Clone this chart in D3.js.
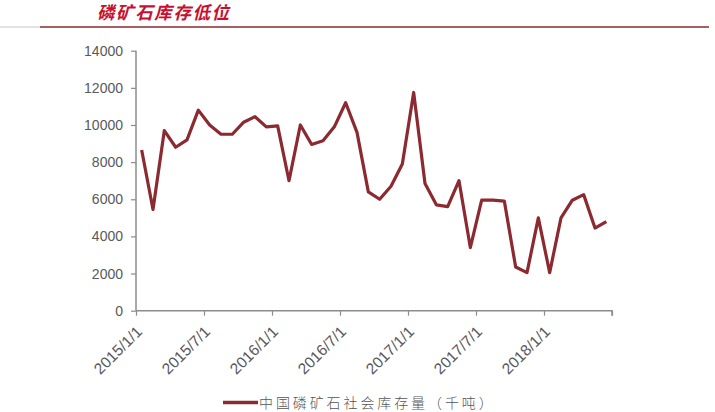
<!DOCTYPE html>
<html><head><meta charset="utf-8">
<script src="https://cdn.jsdelivr.net/npm/d3@7"></script>
<style>
html,body{margin:0;padding:0;background:#fff;}
svg{display:block;}
</style></head>
<body>
<svg id="chart" width="715" height="412"></svg>
<script>
const title = "磷矿石库存低位";
const seriesName = "中国磷矿石社会库存量（千吨）";
const months = ["2015-01","2015-02","2015-03","2015-04","2015-05","2015-06","2015-07","2015-08","2015-09","2015-10","2015-11","2015-12",
  "2016-01","2016-02","2016-03","2016-04","2016-05","2016-06","2016-07","2016-08","2016-09","2016-10","2016-11","2016-12",
  "2017-01","2017-02","2017-03","2017-04","2017-05","2017-06","2017-07","2017-08","2017-09","2017-10","2017-11","2017-12",
  "2018-01","2018-02","2018-03","2018-04","2018-05","2018-06"];
const stock = [8650,5450,9700,8800,9200,10800,10000,9500,9500,10150,10450,9900,
  9950,7000,10000,8950,9150,9900,11200,9600,6400,6000,6700,7900,
  11750,6850,5700,5600,7000,3400,5950,5950,5900,2350,2050,5000,
  2050,5000,5950,6250,4450,4800];
const xTickLabels = ["2015/1/1","2015/7/1","2016/1/1","2016/7/1","2017/1/1","2017/7/1","2018/1/1",""];
const yTicks = [0,2000,4000,6000,8000,10000,12000,14000];

(function(){
const svg = d3.select("#chart");
const mLeft = 136, mRight = 612, mTop = 50.7, mBottom = 310.7;

// header
svg.append("line").attr("x1",0).attr("x2",40).attr("y1",27).attr("y2",27)
  .attr("stroke","#d8d8d8").attr("stroke-width",1.5);
svg.append("line").attr("x1",40).attr("x2",709).attr("y1",27).attr("y2",27)
  .attr("stroke","#8a2a2e").attr("stroke-width",1.5);
svg.append("text").attr("x",97).attr("y",19).text(title)
  .attr("font-family","'Noto Sans CJK SC'").attr("font-weight","bold").attr("font-style","italic")
  .attr("font-size",17.5).attr("letter-spacing",1.6).attr("fill","#c8102e");

const idx = d3.scaleLinear().domain([0, months.length]).range([mLeft, mRight]);
const y = d3.scaleLinear().domain([0,14000]).range([mBottom, mTop]);

const axisColor = "#8c8c8c";
const gy = svg.append("g").attr("transform",`translate(${mLeft},0)`)
  .call(d3.axisLeft(y).tickValues(yTicks).tickSize(5).tickPadding(8).tickFormat(d3.format("d")));
const gx = svg.append("g").attr("transform",`translate(0,${mBottom})`)
  .call(d3.axisBottom(idx).tickValues(d3.range(0, months.length+1, 6)).tickSize(5)
    .tickFormat((d,i)=>xTickLabels[i]));
[gx,gy].forEach(g=>{
  g.selectAll(".domain").attr("stroke",axisColor).attr("stroke-width",1.5);
  g.selectAll(".tick line").attr("stroke",axisColor).attr("stroke-width",1.2);
  g.selectAll("text").attr("fill","#595959").attr("font-family","Arial, 'Liberation Sans', sans-serif").attr("font-size",14);
});
gy.select(".domain").attr("d",`M-0,${mTop}H0V${mBottom}`);
gx.select(".domain").attr("d",`M${mLeft},0H${mRight}V5`);
gx.selectAll("text").attr("text-anchor","end").attr("dy",0).attr("y",0)
  .attr("font-size",15.5)
  .attr("transform","translate(6.5,22) rotate(-45)");

const line = d3.line().x((d,i)=>idx(i+0.5)).y(d=>y(d));
svg.append("path").datum(stock).attr("d",line).attr("fill","none")
  .attr("stroke","#8b2a30").attr("stroke-width",3.2).attr("stroke-linejoin","round");

// legend
svg.append("line").attr("x1",223).attr("x2",258).attr("y1",402.5).attr("y2",402.5)
  .attr("stroke","#8b2a30").attr("stroke-width",3.5);
svg.append("text").attr("x",259).attr("y",407.5).text(seriesName)
  .attr("font-family","'Noto Sans CJK SC'").attr("font-weight",300).attr("font-size",14)
  .attr("letter-spacing",2.9).attr("fill","#555");
})();
</script>
</body></html>
